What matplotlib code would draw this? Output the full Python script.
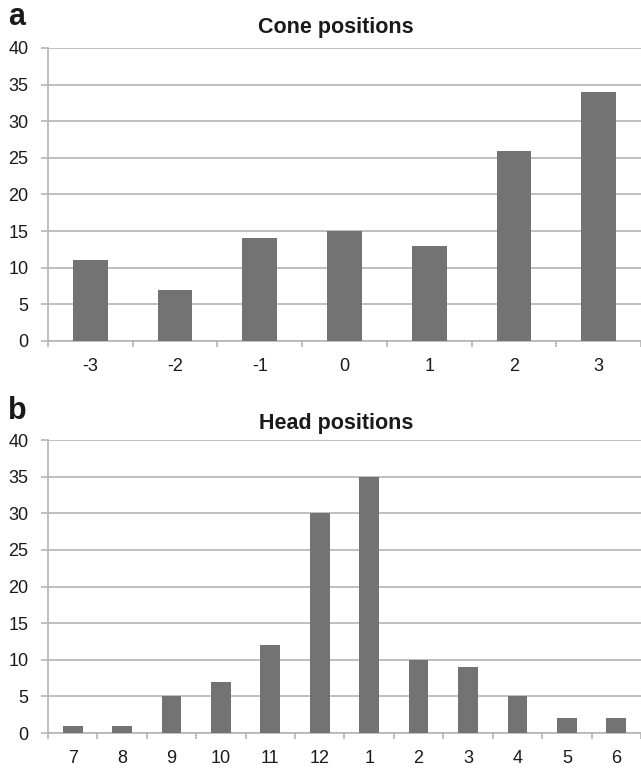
import matplotlib
matplotlib.use("Agg")
import matplotlib.pyplot as plt
import numpy as np

plt.rcParams['font.family'] = ['Liberation Sans', 'DejaVu Sans']

cone_labels = ["-3", "-2", "-1", "0", "1", "2", "3"]
cone_counts = [11, 7, 14, 15, 13, 26, 34]

head_labels = ["7", "8", "9", "10", "11", "12", "1", "2", "3", "4", "5", "6"]
head_counts = [1, 1, 5, 7, 12, 30, 35, 10, 9, 5, 2, 2]

yticks = [0, 5, 10, 15, 20, 25, 30, 35, 40]

BAR = "#737373"
GRID = "#b4b4b4"
TEXT = "#1a1a1a"

fig = plt.figure(figsize=(6.41, 7.69), dpi=100)


def panel(rect, labels, counts, width, title, letter, letter_y, title_y):
    ax = fig.add_axes(rect)
    x = np.arange(len(labels))
    ax.bar(x, counts, width=width, color=BAR, zorder=3)
    ax.set_xlim(-0.5, len(labels) - 0.5)
    ax.set_ylim(0, 40)
    ax.set_yticks(yticks)
    ax.set_yticklabels([str(t) for t in yticks], fontsize=13, color=TEXT)
    ax.yaxis.grid(True, color=GRID, linewidth=1.2, zorder=0)
    ax.set_xticks(x)
    ax.set_xticklabels(labels, fontsize=13, color=TEXT)
    ax.set_xticks(np.arange(len(labels) + 1) - 0.5, minor=True)
    ax.tick_params(axis='x', which='major', length=0, pad=12)
    ax.tick_params(axis='x', which='minor', length=4, color=GRID, width=1.2)
    ax.tick_params(axis='y', length=5, color=GRID, width=1.2, pad=9)
    for side in ['top', 'right']:
        ax.spines[side].set_visible(False)
    for side in ['left', 'bottom']:
        ax.spines[side].set_color(GRID)
        ax.spines[side].set_linewidth(1.2)
    fig.text(336 / 641, title_y, title, ha='center', va='center',
             fontsize=15.5, fontweight='bold', color=TEXT)
    fig.text(8 / 641, letter_y, letter, ha='left', va='center',
             fontsize=22, fontweight='bold', color=TEXT)
    return ax


panel([0.0749, 0.5566, 0.925, 0.381], cone_labels, cone_counts, 0.41,
      "Cone positions", "a", 1 - 17 / 769, 1 - 28 / 769)
panel([0.0749, 0.0468, 0.925, 0.381], head_labels, head_counts, 0.40,
      "Head positions", "b", 1 - 411 / 769, 1 - 423 / 769)

fig.savefig("out.png", dpi=100)
